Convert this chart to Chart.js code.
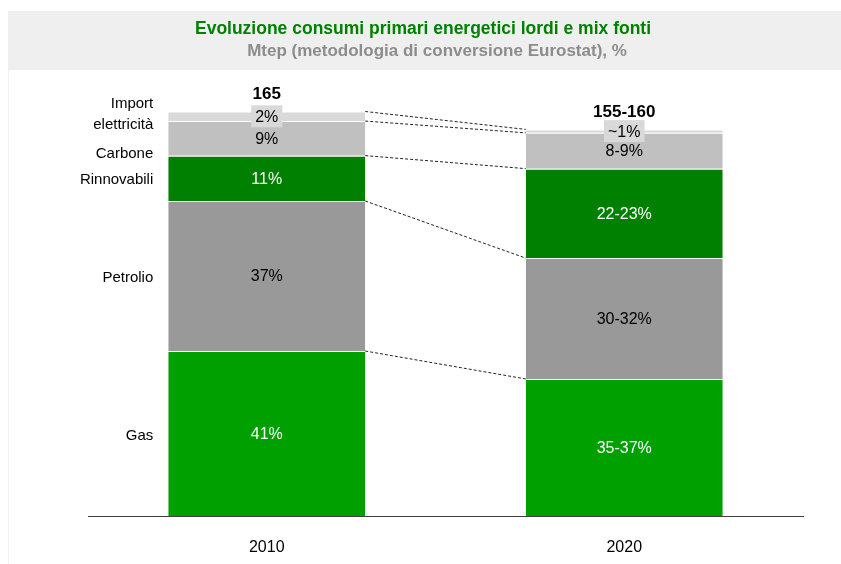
<!DOCTYPE html>
<html>
<head>
<meta charset="utf-8">
<script src="https://cdn.jsdelivr.net/npm/chart.js@4/dist/chart.umd.min.js"></script>
<style>
  html, body { margin: 0; padding: 0; background: #fff; }
  #wrap { width: 841px; height: 564px; }
</style>
</head>
<body>
<div id="wrap"><canvas id="chart" width="841" height="564"></canvas></div>
<script>
// years and sources
const years = ['2010', '2020'];
const sources = ['Gas', 'Petrolio', 'Rinnovabili', 'Carbone', 'Import elettricità'];

// Mtep per source
const gas = [67.3, 55.9];
const petrolio = [61.2, 49.3];
const rinnovabili = [18.5, 36.5];
const carbone = [14.1, 14.6];
const importEl = [3.9, 1.4];

// text shown on the chart
const totals = ['165', '155-160'];
const shares2010 = ['41%', '37%', '11%', '9%', '2%'];
const shares2020 = ['35-37%', '30-32%', '22-23%', '8-9%', '~1%'];

const colors = ['#00a000', '#999999', '#008000', '#c0c0c0', '#d9d9d9'];
const labelColors = ['#fff', '#000', '#fff', '#000', '#000'];
const FONT = "'Liberation Sans', Arial, sans-serif";

const seriesValues = [gas, petrolio, rinnovabili, carbone, importEl];
const shares = [shares2010, shares2020];

const overlay = {
    id: 'overlay',
    beforeDraw(chart) {
        const ctx = chart.ctx;
        ctx.save();
        ctx.fillStyle = '#efefef';
        ctx.fillRect(8, 11, 833, 59);
        ctx.fillStyle = '#f3f3f3';
        ctx.fillRect(8, 70, 1, 494);
        ctx.textAlign = 'center';
        ctx.textBaseline = 'middle';
        ctx.font = 'bold 17.5px ' + FONT;
        ctx.fillStyle = '#008000';
        ctx.fillText('Evoluzione consumi primari energetici lordi e mix fonti', 423, 29);
        ctx.font = 'bold 17px ' + FONT;
        ctx.fillStyle = '#8c8c8c';
        ctx.fillText('Mtep (metodologia di conversione Eurostat), %', 437, 51);
        ctx.restore();
    },
    afterDatasetsDraw(chart) {
        const ctx = chart.ctx;
        const metas = sources.map((s, i) => chart.getDatasetMeta(i));
        ctx.save();

        // dashed connectors between the two bars
        ctx.strokeStyle = '#222';
        ctx.lineWidth = 1;
        ctx.setLineDash([3, 2]);
        metas.forEach(meta => {
            const a = meta.data[0], b = meta.data[1];
            ctx.beginPath();
            ctx.moveTo(a.x + a.width / 2, a.y);
            ctx.lineTo(b.x - b.width / 2, b.y);
            ctx.stroke();
        });
        ctx.setLineDash([]);

        // share labels inside segments
        ctx.textAlign = 'center';
        ctx.textBaseline = 'middle';
        years.forEach((y, j) => {
            ctx.font = '16px ' + FONT;
            metas.forEach((meta, i) => {
                const bar = meta.data[j];
                const cy = (bar.y + bar.base) / 2;
                const txt = shares[j][i];
                if (i === sources.length - 1) {
                    const w = ctx.measureText(txt).width + 8;
                    ctx.fillStyle = colors[i];
                    ctx.fillRect(bar.x - w / 2, cy - 11, w, 22);
                }
                ctx.fillStyle = labelColors[i];
                ctx.fillText(txt, bar.x, cy + 1);
            });
            const top = metas[sources.length - 1].data[j];
            ctx.font = 'bold 17px ' + FONT;
            ctx.fillStyle = '#000';
            ctx.fillText(totals[j], top.x, top.y - 17);
        });

        // source names left of the first bar
        ctx.font = '15px ' + FONT;
        ctx.textAlign = 'right';
        ctx.fillStyle = '#000';
        const left = metas[0].data[0].x - metas[0].data[0].width / 2 - 15;
        metas.forEach((meta, i) => {
            const bar = meta.data[0];
            const cy = (bar.y + bar.base) / 2 + 2;
            if (i === 3) {
                ctx.fillText(sources[i], left, bar.base - 2);
            } else if (i === 4) {
                ctx.fillText('Import', left, bar.base - 17);
                ctx.fillText('elettricità', left, bar.base + 4);
            } else {
                ctx.fillText(sources[i], left, cy);
            }
        });
        ctx.restore();
    }
};

new Chart(document.getElementById('chart'), {
    type: 'bar',
    data: {
        labels: years,
        datasets: sources.map((s, i) => ({
            label: s,
            data: seriesValues[i],
            backgroundColor: colors[i],
            borderColor: '#ffffff',
            borderWidth: { top: 1, bottom: 0, left: 0, right: 0 },
            borderSkipped: false,
            categoryPercentage: 1,
            barPercentage: 0.551
        }))
    },
    options: {
        responsive: false,
        animation: false,
        devicePixelRatio: 1,
        layout: { padding: { top: 87, left: 88, right: 38, bottom: 0 } },
        plugins: {
            legend: { display: false },
            tooltip: { enabled: false }
        },
        scales: {
            x: {
                stacked: true,
                grid: { display: false, drawTicks: false },
                border: { display: true, color: '#404040', width: 1 },
                ticks: {
                    color: '#000',
                    font: { family: FONT, size: 16 },
                    padding: 22
                },
                afterFit(scale) { scale.height = 48; }
            },
            y: {
                stacked: true,
                display: false,
                min: 0,
                max: 175
            }
        }
    },
    plugins: [overlay]
});
</script>
</body>
</html>
